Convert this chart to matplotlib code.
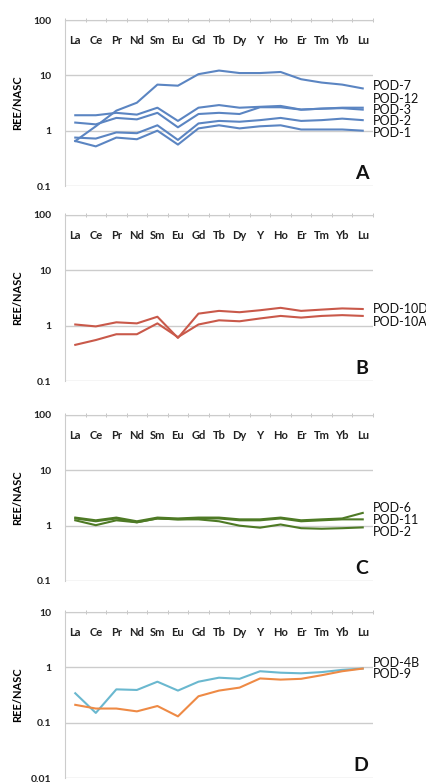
import numpy as np
import matplotlib.pyplot as plt
from matplotlib.ticker import FixedLocator, NullFormatter

plt.rcParams['font.family'] = ['Lato', 'DejaVu Sans']

elements = ['La', 'Ce', 'Pr', 'Nd', 'Sm', 'Eu', 'Gd', 'Tb', 'Dy', 'Y', 'Ho', 'Er', 'Tm', 'Yb', 'Lu']

# panel A
pod7 = [0.65, 1.2, 2.3, 3.2, 6.8, 6.5, 10.5, 12.2, 11.0, 11.0, 11.5, 8.5, 7.4, 6.8, 5.8]
pod12 = [1.9, 1.9, 2.1, 1.95, 2.6, 1.5, 2.6, 2.9, 2.6, 2.7, 2.8, 2.4, 2.5, 2.6, 2.6]
pod3 = [1.4, 1.3, 1.7, 1.6, 2.1, 1.15, 2.0, 2.1, 2.0, 2.65, 2.65, 2.4, 2.5, 2.55, 2.4]
pod2a = [0.75, 0.72, 0.93, 0.9, 1.25, 0.68, 1.35, 1.5, 1.45, 1.55, 1.7, 1.5, 1.55, 1.65, 1.55]
pod1 = [0.65, 0.52, 0.75, 0.7, 1.0, 0.56, 1.1, 1.25, 1.1, 1.2, 1.25, 1.05, 1.05, 1.05, 1.0]
# panel B
pod10d = [1.05, 0.97, 1.15, 1.1, 1.45, 0.6, 1.65, 1.85, 1.75, 1.9, 2.1, 1.85, 1.95, 2.05, 2.0]
pod10a = [0.45, 0.55, 0.7, 0.7, 1.1, 0.62, 1.05, 1.25, 1.2, 1.35, 1.5, 1.4, 1.5, 1.55, 1.5]
# panel C
pod6 = [1.4, 1.25, 1.4, 1.2, 1.4, 1.35, 1.4, 1.4, 1.3, 1.3, 1.4, 1.25, 1.3, 1.35, 1.7]
pod11 = [1.35, 1.2, 1.35, 1.15, 1.35, 1.3, 1.35, 1.35, 1.25, 1.25, 1.35, 1.2, 1.25, 1.3, 1.3]
pod2c = [1.25, 1.02, 1.25, 1.15, 1.35, 1.3, 1.3, 1.2, 1.0, 0.92, 1.05, 0.9, 0.88, 0.9, 0.93]
# panel D
pod4b = [0.34, 0.15, 0.4, 0.39, 0.55, 0.38, 0.55, 0.65, 0.62, 0.85, 0.8, 0.78, 0.82, 0.9, 0.95]
pod9 = [0.21, 0.18, 0.18, 0.16, 0.2, 0.13, 0.3, 0.38, 0.43, 0.63, 0.6, 0.62, 0.72, 0.85, 0.95]

panels = [
    ('A', [pod7, pod12, pod3, pod2a, pod1], ['POD-7', 'POD-12', 'POD-3', 'POD-2', 'POD-1'],
     [6.4, 3.75, 2.38, 1.51, 0.92], ['#5b85c2'] * 5, (0.1, 100)),
    ('B', [pod10d, pod10a], ['POD-10D', 'POD-10A'], [2.0, 1.18], ['#c9594a'] * 2, (0.1, 100)),
    ('C', [pod6, pod11, pod2c], ['POD-6', 'POD-11', 'POD-2'], [2.05, 1.25, 0.77],
     ['#4e7a25'] * 3, (0.1, 100)),
    ('D', [pod4b, pod9], ['POD-4B', 'POD-9'], [1.18, 0.75], ['#6ab8cf', '#ee8a45'], (0.01, 10)),
]

fig = plt.figure(figsize=(4.27, 7.84), dpi=100)
tops = [20, 215, 415, 612]
x = np.arange(len(elements))

for (letter, series, names, label_y, colors, ylim), top in zip(panels, tops):
    ax = fig.add_axes([65 / 427, 1 - (top + 166) / 784, 308 / 427, 166 / 784])
    for vals, c in zip(series, colors):
        ax.plot(x, vals, color=c, lw=1.5)
    ax.set_yscale('log')
    ax.set_ylim(*ylim)
    ax.set_xlim(-0.5, len(elements) - 0.5)
    ax.yaxis.set_major_locator(FixedLocator([ylim[0] * 10 ** k for k in range(4)]))
    ax.yaxis.set_minor_formatter(NullFormatter())
    ax.yaxis.set_minor_locator(FixedLocator([]))
    ax.set_yticklabels(['%g' % (ylim[0] * 10 ** k) for k in range(4)])
    ax.tick_params(axis='y', length=0, labelsize=7.5, labelcolor='#222222', pad=10)
    for t in ax.get_yticklabels():
        t.set_fontweight('bold')
    ax.grid(axis='y', color='#cccccc', lw=1)
    ax.xaxis.tick_top()
    ax.set_xticks(x)
    ax.set_xticklabels(elements, fontsize=8, fontweight='bold', color='#222222')
    ax.tick_params(axis='x', which='major', length=0, pad=-19)
    ax.set_xticks(np.arange(-0.5, len(elements)), minor=True)
    ax.tick_params(axis='x', which='minor', length=3, direction='inout', color='#bbbbbb', top=True, bottom=False)
    for s in ['right', 'bottom']:
        ax.spines[s].set_visible(False)
    for s in ['top', 'left']:
        ax.spines[s].set_color('#cccccc')
    ax.set_ylabel('REE/NASC', fontsize=8, fontweight='bold')
    ax.yaxis.set_label_coords(-0.135, 0.5)
    ax.text(0.985, 0.025, letter, transform=ax.transAxes, ha='right', va='bottom',
            fontsize=14, fontweight='bold', color='#111111')
    for name, ly in zip(names, label_y):
        ax.annotate(name, xy=(1.0, ly), xycoords=('axes fraction', 'data'),
                    xytext=(0, 0), textcoords='offset points', ha='left', va='center',
                    fontsize=9, color='#111111', annotation_clip=False)

fig.savefig('out.png', dpi=100)
